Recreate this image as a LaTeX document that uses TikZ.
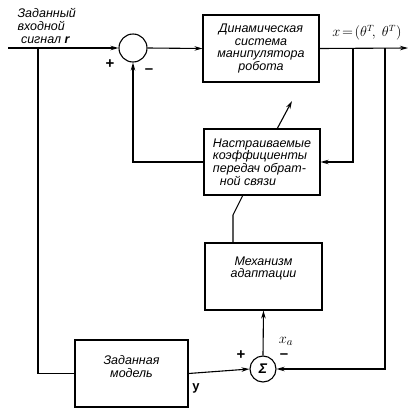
\documentclass[tikz,border=0pt]{standalone}
\usepackage{fontspec}
\setmainfont{Liberation Sans}
\usetikzlibrary{arrows.meta}
\begin{document}
\begin{tikzpicture}[x=1pt,y=-1pt,line width=1.1pt,
  >={Stealth[length=8pt,width=4.5pt]},
  blk/.style={draw,line width=1.1pt,inner sep=0pt,font=\fontsize{12.5}{12.8}\selectfont\itshape,align=center},
  sumc/.style={draw,circle,line width=1.1pt,inner sep=0pt},
  lbl/.style={font=\fontsize{12.5}{12.8}\selectfont\itshape,inner sep=0pt},
  mlbl/.style={font=\fontsize{15}{15}\selectfont,inner sep=0pt}]
\useasboundingbox (0,0) rectangle (409,410);
% blocks
\node[blk,minimum width=116pt,minimum height=67pt] (dyn) at (261,48.5)
  {Динамическая\\система\\манипулятора\\робота};
\node[blk,minimum width=116pt,minimum height=66pt,align=left] (adj) at (262,162)
  {Настраиваемые\\коэффициенты\\передач обрат-\\\ \ ной связи};
\node[blk,minimum width=117pt,minimum height=67pt] (mech) at (263.5,276.5)
  {Механизм\\адаптации\\[6pt]};
\node[blk,minimum width=113pt,minimum height=67pt] (model) at (131.5,373.5)
  {Заданная\\модель\\[2pt]};
\node[sumc,minimum size=28pt] (sum) at (133,48) {};
\node[sumc,minimum size=26pt,font=\fontsize{14}{14}\selectfont\bfseries\itshape] (sig) at (263,369) {Σ};
% coordinates
\coordinate (in) at (8,48);
\coordinate (b1) at (38,48);
\coordinate (out) at (408,48);
\coordinate (t1) at (353,48);
\coordinate (t2) at (385,48);
\coordinate (adjtop) at (277,129);
\coordinate (adjtip) at (292,101);
\coordinate (adjbot) at (243,195);
\coordinate (mechtop) at (233,243);
% connectors
\draw[->] (in) -- (sum.west);
\draw (b1) |- (model.west);
\draw[->] (sum.east) -- (dyn.west);
\draw[->] (dyn.east) -- (out);
\draw[->] (t1) |- (adj.east);
\draw[->] (adj.west) -| (sum.south);
\draw[->] (t2) |- (sig.east);
\draw[->] (model.east) -- (sig.west);
\draw[->] (sig.north) -- (mech.south);
\draw (mechtop) -- ++(0,-28) -- (adjbot);
\draw[->] (adjtop) -- (adjtip);
% labels
\node[lbl,align=left,anchor=north west] (inlbl) at (17,8) {Заданный\\входной\\\ сигнал \textbf{r}};
\node[lbl,font=\fontsize{13.5}{13.5}\selectfont] (outlbl) at (367,33) {$x\!=\!(\theta^T\!,\ \theta^T)$};
\node[mlbl] (p1) at (110,64) {\textbf{+}};
\node[mlbl] (m1) at (149,71) {\textbf{\textendash}};
\node[mlbl] (p2) at (241,355) {\textbf{+}};
\node[mlbl] (m2) at (284,356) {\textbf{\textendash}};
\node[mlbl] (xa) at (286,341) {$x_a$};
\node[mlbl,font=\fontsize{13}{13}\selectfont] (ylbl) at (196,388) {$\mathbf{y}$};
\end{tikzpicture}
\end{document}
